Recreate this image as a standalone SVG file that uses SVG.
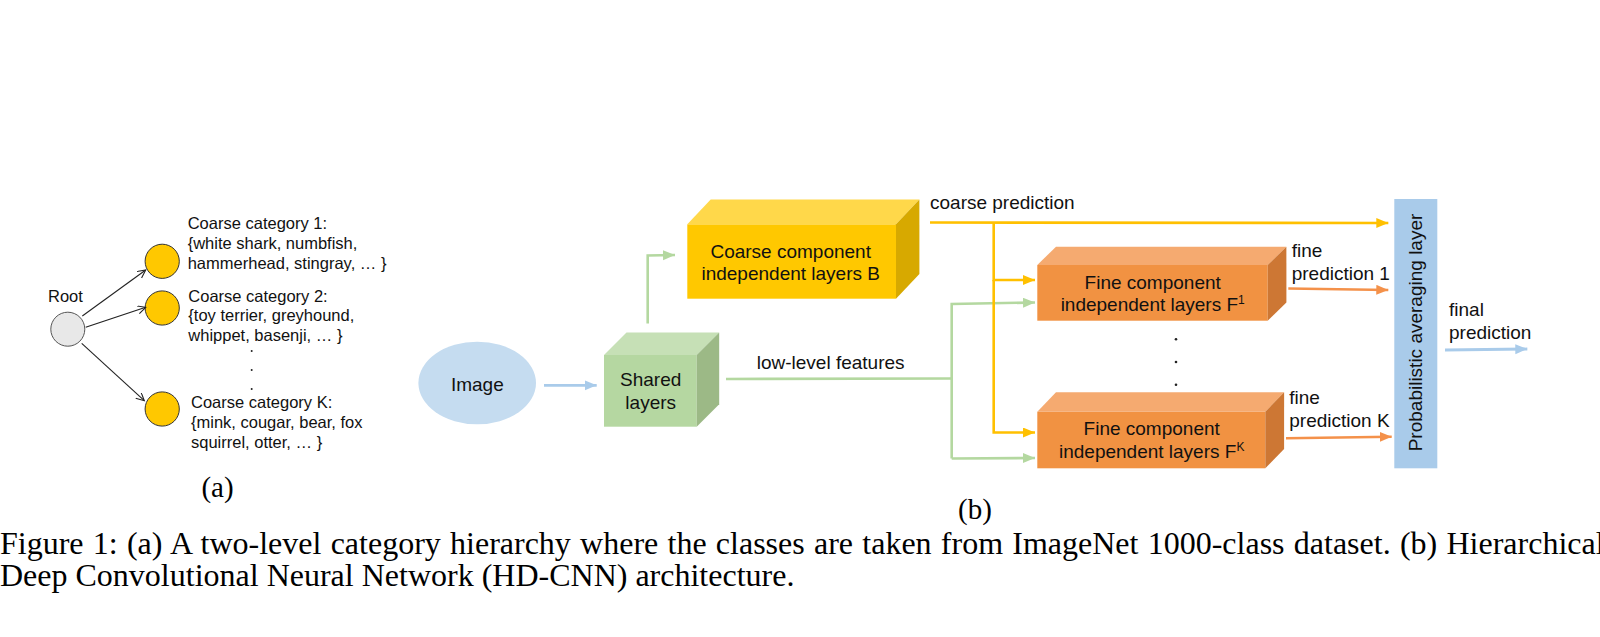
<svg xmlns="http://www.w3.org/2000/svg" width="1600" height="637" viewBox="0 0 1600 637">
<defs>
<style>
.sans{font-family:"Liberation Sans",Arial,sans-serif;fill:#111}
.a16{font-size:16.5px}
.b19{font-size:19px}
.serif{font-family:"Liberation Serif","Times New Roman",serif;fill:#000}
.blk{stroke:#222;stroke-width:1.1;fill:none}
.yel{stroke:#ffc000;stroke-width:2.6;fill:none}
.grn{stroke:#b4d8a0;stroke-width:2.6;fill:none}
.org{stroke:#f4914a;stroke-width:2.6;fill:none}
.blu{stroke:#a9cbea;stroke-width:2.8;fill:none}
</style>
<marker id="mBlk" markerUnits="userSpaceOnUse" markerWidth="10" markerHeight="10" refX="8" refY="4" orient="auto"><path d="M0,0 L8,4 L0,8" fill="none" stroke="#222" stroke-width="1.1"/></marker>
<marker id="mYel" markerUnits="userSpaceOnUse" markerWidth="13" markerHeight="11" refX="12" refY="5" orient="auto"><path d="M0,0 L12,5 L0,10 z" fill="#ffc000"/></marker>
<marker id="mGrn" markerUnits="userSpaceOnUse" markerWidth="13" markerHeight="11" refX="12" refY="5" orient="auto"><path d="M0,0 L12,5 L0,10 z" fill="#b4d8a0"/></marker>
<marker id="mOrg" markerUnits="userSpaceOnUse" markerWidth="13" markerHeight="11" refX="12" refY="5" orient="auto"><path d="M0,0 L12,5 L0,10 z" fill="#f4914a"/></marker>
<marker id="mBlu" markerUnits="userSpaceOnUse" markerWidth="13" markerHeight="11" refX="12" refY="5" orient="auto"><path d="M0,0 L12,5 L0,10 z" fill="#a9cbea"/></marker>
</defs>
<rect width="1600" height="637" fill="#fff"/>

<!-- (a) hierarchy -->
<g id="root">
<circle cx="67.8" cy="329.2" r="17" fill="#e8e8e8" stroke="#555" stroke-width="1"/>
<text class="sans a16" x="48" y="302">Root</text>
</g>
<g id="cat1">
<circle cx="162.2" cy="261.3" r="17.1" fill="#ffc800" stroke="#333" stroke-width="1"/>
<text class="sans a16" x="187.7" y="229">Coarse category 1:</text>
<text class="sans a16" x="187.7" y="249">{white shark, numbfish,</text>
<text class="sans a16" x="187.7" y="268.5">hammerhead, stingray, … }</text>
</g>
<g id="cat2">
<circle cx="162.2" cy="308" r="17.1" fill="#ffc800" stroke="#333" stroke-width="1"/>
<text class="sans a16" x="188.3" y="301.7">Coarse category 2:</text>
<text class="sans a16" x="188.3" y="321">{toy terrier, greyhound,</text>
<text class="sans a16" x="188.3" y="341">whippet, basenji, … }</text>
</g>
<g id="dotsA" fill="#222">
<circle cx="251.7" cy="351" r="1"/>
<circle cx="251.7" cy="370" r="1"/>
<circle cx="251.7" cy="389" r="1"/>
</g>
<g id="catK">
<circle cx="162.2" cy="409" r="17.1" fill="#ffc800" stroke="#333" stroke-width="1"/>
<text class="sans a16" x="191" y="408.3">Coarse category K:</text>
<text class="sans a16" x="191" y="428.3">{mink, cougar, bear, fox</text>
<text class="sans a16" x="191" y="447.7">squirrel, otter, … }</text>
</g>
<g id="labelA"><text class="serif" font-size="29" x="217.5" y="497" text-anchor="middle">(a)</text></g>

<!-- (b) nodes -->
<g id="image">
<ellipse cx="477.2" cy="383" rx="58.8" ry="41.3" fill="#c5dcf0"/>
<text class="sans b19" x="477.3" y="391" text-anchor="middle">Image</text>
</g>
<g id="shared">
<rect x="604" y="355" width="92.7" height="71.7" fill="#b5d7a1"/>
<polygon points="604,355 626.5,332.5 719.2,332.5 696.7,355" fill="#c6e0b6"/>
<polygon points="696.7,355 719.2,332.5 719.2,404.2 696.7,426.7" fill="#9cb986"/>
<text class="sans b19" x="650.7" y="386" text-anchor="middle">Shared</text>
<text class="sans b19" x="650.7" y="409.3" text-anchor="middle">layers</text>
</g>
<g id="coarse">
<rect x="687.3" y="224.3" width="208.7" height="74.4" fill="#ffc800"/>
<polygon points="687.3,224.3 710.7,199.5 919.4,199.5 896,224.3" fill="#ffd84a"/>
<polygon points="896,224.3 919.4,199.5 919.4,273.9 896,298.7" fill="#d7a900"/>
<text class="sans b19" x="790.7" y="257.7" text-anchor="middle">Coarse component</text>
<text class="sans b19" x="790.7" y="280" text-anchor="middle">independent layers B</text>
</g>
<g id="fine1">
<rect x="1037.3" y="265" width="230.4" height="55.7" fill="#f19242"/>
<polygon points="1037.3,265 1056,246.7 1286.4,246.7 1267.7,265" fill="#f5aa70"/>
<polygon points="1267.7,265 1286.4,246.7 1286.4,302.4 1267.7,320.7" fill="#cd7734"/>
<text class="sans b19" x="1152.7" y="289" text-anchor="middle">Fine component</text>
<text class="sans b19" x="1152.7" y="311" text-anchor="middle">independent layers F<tspan font-size="12" dy="-7">1</tspan></text>
</g>
<g id="dotsB" fill="#222">
<circle cx="1176" cy="339.3" r="1.3"/>
<circle cx="1176" cy="362" r="1.3"/>
<circle cx="1176" cy="384.7" r="1.3"/>
</g>
<g id="fineK">
<rect x="1037.3" y="411.7" width="228" height="56.6" fill="#f19242"/>
<polygon points="1037.3,411.7 1056,392.3 1284.1,392.3 1265.3,411.7" fill="#f5aa70"/>
<polygon points="1265.3,411.7 1284.1,392.3 1284.1,449 1265.3,468.3" fill="#cd7734"/>
<text class="sans b19" x="1151.7" y="435" text-anchor="middle">Fine component</text>
<text class="sans b19" x="1151.7" y="457.7" text-anchor="middle">independent layers F<tspan font-size="12" dy="-7">K</tspan></text>
</g>
<g id="prob">
<rect x="1394.3" y="199" width="43" height="269.3" fill="#a9cbea"/>
<text class="sans b19" transform="translate(1422,332.5) rotate(-90)" x="0" y="0" text-anchor="middle">Probabilistic averaging layer</text>
</g>

<!-- connectors -->
<g id="connectors">
<line class="blk" x1="82.3" y1="316" x2="145.7" y2="270" marker-end="url(#mBlk)"/>
<line class="blk" x1="85.7" y1="327.3" x2="145.7" y2="307.3" marker-end="url(#mBlk)"/>
<line class="blk" x1="81.7" y1="343.3" x2="144.3" y2="400.7" marker-end="url(#mBlk)"/>

<line class="blu" x1="544" y1="385.3" x2="596.7" y2="385.3" marker-end="url(#mBlu)"/>
<polyline class="grn" points="647.7,323.5 647.7,255.5 675,255" marker-end="url(#mGrn)"/>
<polyline class="grn" points="726,379 951.7,378.5"/>
<polyline class="grn" points="951.7,458.5 951.7,304 1035,302.5" marker-end="url(#mGrn)"/>
<polyline class="grn" points="951.7,458.5 1035,458" marker-end="url(#mGrn)"/>

<polyline class="yel" points="930,222.5 1388.3,223" marker-end="url(#mYel)"/>
<polyline class="yel" points="993.7,222.5 993.7,280 1035,280" marker-end="url(#mYel)"/>
<polyline class="yel" points="993.7,280 993.7,432.5 1035,432.5" marker-end="url(#mYel)"/>

<line class="org" x1="1288.3" y1="288.5" x2="1388.3" y2="290" marker-end="url(#mOrg)"/>
<line class="org" x1="1286" y1="438.3" x2="1391.7" y2="436.7" marker-end="url(#mOrg)"/>
<line class="blu" x1="1445" y1="350" x2="1527.3" y2="349" marker-end="url(#mBlu)"/>
</g>

<!-- connector labels -->
<g id="labels">
<text class="sans b19" x="756.7" y="369.3">low-level features</text>
<text class="sans b19" x="930" y="209.3">coarse prediction</text>
<text class="sans b19" x="1291.7" y="257.3">fine</text>
<text class="sans b19" x="1291.7" y="280">prediction 1</text>
<text class="sans b19" x="1289.3" y="404.3">fine</text>
<text class="sans b19" x="1289.3" y="426.7">prediction K</text>
<text class="sans b19" x="1449" y="316">final</text>
<text class="sans b19" x="1449" y="339.3">prediction</text>
</g>

<g id="labelB"><text class="serif" font-size="29" x="975" y="519" text-anchor="middle">(b)</text></g>
<g id="caption">
<text class="serif" font-size="32" word-spacing="1.25" x="0" y="554">Figure 1: (a) A two-level category hierarchy where the classes are taken from ImageNet 1000-class dataset. (b) Hierarchical</text>
<text class="serif" font-size="32" x="0" y="586">Deep Convolutional Neural Network (HD-CNN) architecture.</text>
</g>
</svg>
